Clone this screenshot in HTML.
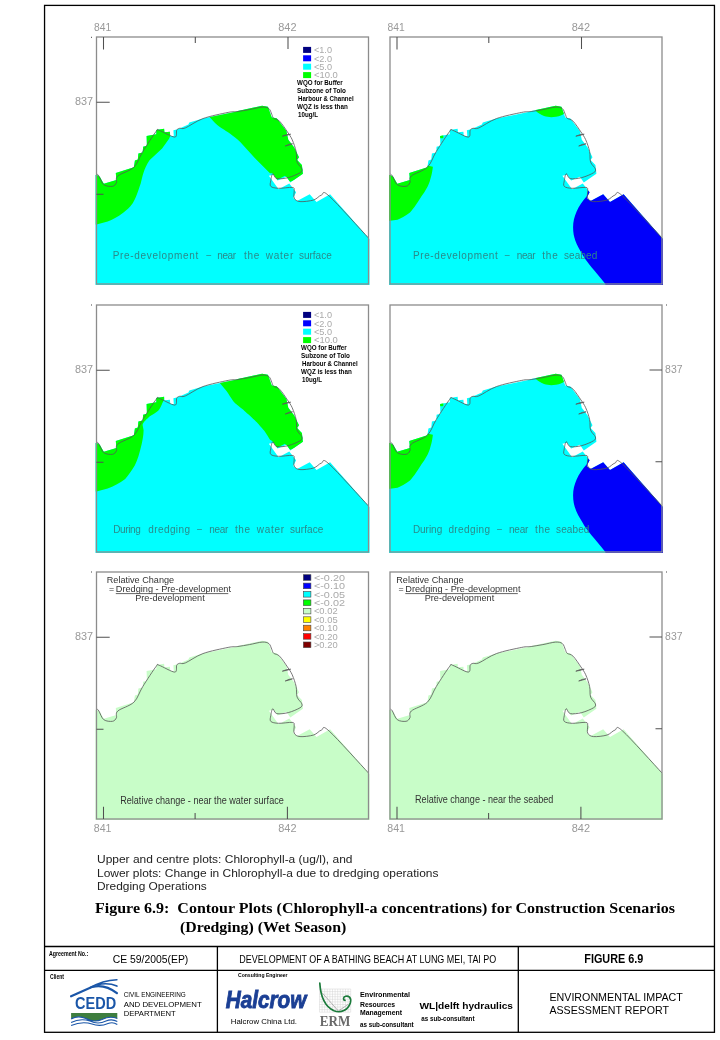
<!DOCTYPE html>
<html><head><meta charset="utf-8">
<style>
html,body{margin:0;padding:0;background:#fff;}
body{width:720px;height:1040px;overflow:hidden;position:relative;font-family:"Liberation Sans", sans-serif;}
svg{position:absolute;left:0;top:0;will-change:transform;}
</style></head><body>
<svg width="720" height="1040" viewBox="0 0 720 1040" font-family='"Liberation Sans", sans-serif'>
<defs>
<clipPath id="wclip"><path d="M-1,138 L0.5,138 L3.4,139.9 L7.3,146.7 L19.9,142.9 L19.3,136.1 L37.4,130.2 L38.4,123.4 L41.3,122.4 L41.9,116.6 L46.2,115.6 L46.6,109.8 L50.4,108.8 L50.1,99.1 L59.8,97.2 L59.8,92.9 L67.6,91.7 L68,95.2 L73.4,94.8 L73.8,99.1 L77.3,99.1 L76.9,93.3 L81.2,92.3 L91.9,87.4 L92.8,85.5 L106.4,81.6 L139.5,74.8 L141.3,74 L165.6,68.7 L171.4,69.7 L175.3,80.4 L180.2,81.3 L189.9,94 L191.8,102.7 L197.7,110.5 L202.5,120.2 L200.6,123.1 L205.4,128 L206.4,136.7 L193.8,145.5 L189.9,139.7 L181.1,143.6 L177.2,137.7 L172.4,138.7 L182.1,152.3 L192.8,146.5 L199.6,155.2 L196.7,161.1 L200.6,164 L213.2,157.2 L220,164.9 L233.6,157.2 L273,202 L273,248 L-1,248 Z"/></clipPath>
</defs>
<rect x="44.55" y="5.4" width="669.9" height="1026.9" fill="none" stroke="#000" stroke-width="1.3"/>
<g transform="translate(96.5,37)">
<path d="M-1,138 L0.5,138 L3.4,139.9 L7.3,146.7 L19.9,142.9 L19.3,136.1 L37.4,130.2 L38.4,123.4 L41.3,122.4 L41.9,116.6 L46.2,115.6 L46.6,109.8 L50.4,108.8 L50.1,99.1 L59.8,97.2 L59.8,92.9 L67.6,91.7 L68,95.2 L73.4,94.8 L73.8,99.1 L77.3,99.1 L76.9,93.3 L81.2,92.3 L91.9,87.4 L92.8,85.5 L106.4,81.6 L139.5,74.8 L141.3,74 L165.6,68.7 L171.4,69.7 L175.3,80.4 L180.2,81.3 L189.9,94 L191.8,102.7 L197.7,110.5 L202.5,120.2 L200.6,123.1 L205.4,128 L206.4,136.7 L193.8,145.5 L189.9,139.7 L181.1,143.6 L177.2,137.7 L172.4,138.7 L182.1,152.3 L192.8,146.5 L199.6,155.2 L196.7,161.1 L200.6,164 L213.2,157.2 L220,164.9 L233.6,157.2 L273,202 L273,248 L-1,248 Z" fill="#00ffff"/>
<path d="M-2,90 L73.6,88 L73.6,99.5 L72.4,101.9 L65.6,111.6 L53,123.3 C47,132 46,140 44.2,146.6 C41,156 39,162 36.4,166 C33,171 30,173 26.7,175.8 C21,180 16,183 11.2,184.5 L0,187.4 L-2,187.4 Z" fill="#00ff00" clip-path="url(#wclip)"/>
<path d="M100,60 L215,60 L215,137 L193.5,144.7 L188.5,138.8 L180.2,143 L176,136.3 L173.5,136.3 L158.5,121.3 L143.5,104.7 C136,98 131,95 125.2,91.3 C119,87 116,83 112.7,79.7 L100,72 Z" fill="#00ff00" clip-path="url(#wclip)"/>
<path d="M0.5,137.0 C0.8,137.3 1.3,137.2 2.4,139.0 C3.5,140.8 5.0,146.0 7.3,147.7 C9.6,149.4 13.9,149.6 16.0,149.3 C18.1,149.0 19.0,147.5 19.9,145.8 C20.8,144.1 18.4,141.6 21.3,139.0 C24.2,136.4 33.2,134.2 37.4,130.2 C41.5,126.1 42.5,120.7 46.2,114.7 C49.9,108.7 57.0,97.8 59.8,94.2 C62.5,90.6 59.6,92.3 62.7,93.3 C65.8,94.3 75.3,100.1 78.2,100.1 C81.1,100.1 79.4,94.8 80.2,93.3 C81.0,91.8 81.6,91.7 83.1,91.3 C84.5,90.9 85.0,92.5 88.9,90.9 C92.8,89.3 99.3,84.2 106.4,81.6 C113.5,79.0 125.9,76.6 131.7,75.4 C137.5,74.2 137.8,75.0 141.3,74.5 C144.8,74.0 148.9,73.3 152.9,72.6 C156.9,71.9 162.3,70.3 165.6,70.1 C168.8,69.9 170.8,70.4 172.4,71.6 C174.0,72.8 174.5,75.8 175.3,77.4 C176.1,79.0 175.9,80.2 177.2,81.3 C178.5,82.4 180.8,81.9 183.1,84.2 C185.4,86.5 188.8,91.8 190.9,94.9 C193.0,98.0 194.2,99.5 195.7,102.7 C197.1,106.0 198.8,110.7 199.6,114.4 C200.4,118.1 199.6,122.2 200.6,125.1 C201.6,128.0 204.9,130.1 205.4,131.9 C205.9,133.7 205.8,134.4 203.5,135.8 C201.2,137.2 195.7,139.6 191.8,140.6 C187.9,141.6 182.8,142.2 180.2,141.6 C177.6,140.9 177.3,136.4 176.3,136.7 C175.3,137.0 174.6,141.5 174.3,143.6 C174.0,145.7 173.0,148.1 174.3,149.4 C175.6,150.7 178.5,151.1 182.1,151.3 C185.7,151.5 193.1,150.1 195.7,150.4 C198.3,150.7 197.4,151.5 197.7,153.3 C198.0,155.1 196.7,159.2 197.7,161.1 C198.7,163.0 200.3,164.3 203.5,164.6 C206.7,164.9 213.5,164.1 217.1,163.0 C220.7,161.9 222.3,158.8 224.9,158.1 C227.5,157.4 224.8,151.9 232.7,159.1 C240.5,166.2 265.4,194.0 272.0,201.0" fill="none" stroke="#555" stroke-width="0.8" stroke-linejoin="round"/>
<path d="M185.8,99.2 Q190,97 194.2,97.2 Q190,98.6 185.8,99.2 Z M188.7,109 Q192.5,106.8 196,106.8 Q192.5,108.4 188.7,109 Z" fill="#888" stroke="#555" stroke-width="0.7" stroke-linejoin="round"/>
<rect x="0" y="0" width="272" height="247" fill="none" stroke="#8c8c8c" stroke-width="1.3"/>
<text x="6.1" y="-6.3" font-size="10" fill="#999" font-weight="normal" text-anchor="middle" textLength="17.2" lengthAdjust="spacingAndGlyphs" >841</text>
<text x="190.9" y="-6.3" font-size="10" fill="#999" font-weight="normal" text-anchor="middle" textLength="18.3" lengthAdjust="spacingAndGlyphs" >842</text>
<text x="-3.4" y="68.4" font-size="10" fill="#999" font-weight="normal" text-anchor="end" textLength="18.1" lengthAdjust="spacingAndGlyphs" >837</text>
<path d="M7,0 V12.5 M98.8,0 V6 M191.5,0 V12 M0,65.3 H13.2 M0,157.3 H7" stroke="#505050" stroke-width="1.05" fill="none"/>
<text x="16.2" y="221.9" font-size="10" fill="#2a8a8a" font-weight="normal" text-anchor="start" textLength="85.6" lengthAdjust="spacing" >Pre-development</text>
<text x="109.5" y="221.9" font-size="10" fill="#2a8a8a" font-weight="normal" text-anchor="start" textLength="4.7" lengthAdjust="spacing" >−</text>
<text x="120.8" y="221.9" font-size="10" fill="#2a8a8a" font-weight="normal" text-anchor="start" textLength="18.7" lengthAdjust="spacing" >near</text>
<text x="147.5" y="221.9" font-size="10" fill="#2a8a8a" font-weight="normal" text-anchor="start" textLength="15.3" lengthAdjust="spacing" >the</text>
<text x="169.2" y="221.9" font-size="10" fill="#2a8a8a" font-weight="normal" text-anchor="start" textLength="27.6" lengthAdjust="spacing" >water</text>
<text x="202.5" y="221.9" font-size="10" fill="#2a8a8a" font-weight="normal" text-anchor="start" textLength="32.7" lengthAdjust="spacing" >surface</text>
<rect x="206.6" y="9.9" width="8" height="6" fill="#000080"/>
<text x="217.4" y="16.2" font-size="8.6" fill="#aaa" font-weight="normal" text-anchor="start" textLength="18.1" lengthAdjust="spacingAndGlyphs" >&lt;1.0</text>
<rect x="206.6" y="18.3" width="8" height="6" fill="#0000ff"/>
<text x="217.4" y="24.6" font-size="8.6" fill="#aaa" font-weight="normal" text-anchor="start" textLength="18.1" lengthAdjust="spacingAndGlyphs" >&lt;2.0</text>
<rect x="206.6" y="26.7" width="8" height="6" fill="#00ffff"/>
<text x="217.4" y="33.0" font-size="8.6" fill="#aaa" font-weight="normal" text-anchor="start" textLength="18.1" lengthAdjust="spacingAndGlyphs" >&lt;5.0</text>
<rect x="206.6" y="35.1" width="8" height="6" fill="#00ff00"/>
<text x="217.4" y="41.4" font-size="8.6" fill="#aaa" font-weight="normal" text-anchor="start" textLength="23.9" lengthAdjust="spacingAndGlyphs" >&lt;10.0</text>
<text x="200.6" y="47.9" font-size="6.4" fill="#000" font-weight="bold" text-anchor="start" textLength="45.6" lengthAdjust="spacingAndGlyphs" >WQO for Buffer</text>
<text x="200.6" y="55.8" font-size="6.4" fill="#000" font-weight="bold" text-anchor="start" textLength="48.9" lengthAdjust="spacingAndGlyphs" >Subzone of Tolo</text>
<text x="201.5" y="63.7" font-size="6.4" fill="#000" font-weight="bold" text-anchor="start" textLength="55.7" lengthAdjust="spacingAndGlyphs" >Harbour &amp; Channel</text>
<text x="200.6" y="71.6" font-size="6.4" fill="#000" font-weight="bold" text-anchor="start" textLength="50.7" lengthAdjust="spacingAndGlyphs" >WQZ is less than</text>
<text x="201.5" y="79.5" font-size="6.4" fill="#000" font-weight="bold" text-anchor="start" textLength="20" lengthAdjust="spacingAndGlyphs" >10ug/L</text>
</g>
<g transform="translate(390,37)">
<path d="M-1,138 L0.5,138 L3.4,139.9 L7.3,146.7 L19.9,142.9 L19.3,136.1 L37.4,130.2 L38.4,123.4 L41.3,122.4 L41.9,116.6 L46.2,115.6 L46.6,109.8 L50.4,108.8 L50.1,99.1 L59.8,97.2 L59.8,92.9 L67.6,91.7 L68,95.2 L73.4,94.8 L73.8,99.1 L77.3,99.1 L76.9,93.3 L81.2,92.3 L91.9,87.4 L92.8,85.5 L106.4,81.6 L139.5,74.8 L141.3,74 L165.6,68.7 L171.4,69.7 L175.3,80.4 L180.2,81.3 L189.9,94 L191.8,102.7 L197.7,110.5 L202.5,120.2 L200.6,123.1 L205.4,128 L206.4,136.7 L193.8,145.5 L189.9,139.7 L181.1,143.6 L177.2,137.7 L172.4,138.7 L182.1,152.3 L192.8,146.5 L199.6,155.2 L196.7,161.1 L200.6,164 L213.2,157.2 L220,164.9 L233.6,157.2 L273,202 L273,248 L-1,248 Z" fill="#00ffff"/>
<path d="M-2,125 L37,128.6 L42.9,129.7 C42,137 41,140 39.8,144.3 C37,152 34,156 30.4,160.9 C26,168 23,172 20,175.5 C15,179 11,181.5 7.5,182.8 L0,183.8 L-2,183.8 Z" fill="#00ff00" clip-path="url(#wclip)"/>
<path d="M145.6,73.8 L146,55 L185,55 L174.8,75.9 C172,78 170,79 166,79.8 C161,80.5 158,80.2 154,79 C150,77.5 148,76 145.6,73.8 Z" fill="#00ff00" clip-path="url(#wclip)"/>
<rect x="49.3" y="98" width="4" height="3.2" fill="#00ff00" clip-path="url(#wclip)"/>
<path d="M196.7,159.3 L199,151 L236,151 L280,196 L280,250 L215.4,250 L215.4,247 C205,234 197,226 192.5,217.6 C186,207 183,200 183.1,190 C183.1,180 188,169 196.7,159.3 Z" fill="#0000fa" clip-path="url(#wclip)"/>
<path d="M0.5,137.0 C0.8,137.3 1.3,137.2 2.4,139.0 C3.5,140.8 5.0,146.0 7.3,147.7 C9.6,149.4 13.9,149.6 16.0,149.3 C18.1,149.0 19.0,147.5 19.9,145.8 C20.8,144.1 18.4,141.6 21.3,139.0 C24.2,136.4 33.2,134.2 37.4,130.2 C41.5,126.1 42.5,120.7 46.2,114.7 C49.9,108.7 57.0,97.8 59.8,94.2 C62.5,90.6 59.6,92.3 62.7,93.3 C65.8,94.3 75.3,100.1 78.2,100.1 C81.1,100.1 79.4,94.8 80.2,93.3 C81.0,91.8 81.6,91.7 83.1,91.3 C84.5,90.9 85.0,92.5 88.9,90.9 C92.8,89.3 99.3,84.2 106.4,81.6 C113.5,79.0 125.9,76.6 131.7,75.4 C137.5,74.2 137.8,75.0 141.3,74.5 C144.8,74.0 148.9,73.3 152.9,72.6 C156.9,71.9 162.3,70.3 165.6,70.1 C168.8,69.9 170.8,70.4 172.4,71.6 C174.0,72.8 174.5,75.8 175.3,77.4 C176.1,79.0 175.9,80.2 177.2,81.3 C178.5,82.4 180.8,81.9 183.1,84.2 C185.4,86.5 188.8,91.8 190.9,94.9 C193.0,98.0 194.2,99.5 195.7,102.7 C197.1,106.0 198.8,110.7 199.6,114.4 C200.4,118.1 199.6,122.2 200.6,125.1 C201.6,128.0 204.9,130.1 205.4,131.9 C205.9,133.7 205.8,134.4 203.5,135.8 C201.2,137.2 195.7,139.6 191.8,140.6 C187.9,141.6 182.8,142.2 180.2,141.6 C177.6,140.9 177.3,136.4 176.3,136.7 C175.3,137.0 174.6,141.5 174.3,143.6 C174.0,145.7 173.0,148.1 174.3,149.4 C175.6,150.7 178.5,151.1 182.1,151.3 C185.7,151.5 193.1,150.1 195.7,150.4 C198.3,150.7 197.4,151.5 197.7,153.3 C198.0,155.1 196.7,159.2 197.7,161.1 C198.7,163.0 200.3,164.3 203.5,164.6 C206.7,164.9 213.5,164.1 217.1,163.0 C220.7,161.9 222.3,158.8 224.9,158.1 C227.5,157.4 224.8,151.9 232.7,159.1 C240.5,166.2 265.4,194.0 272.0,201.0" fill="none" stroke="#555" stroke-width="0.8" stroke-linejoin="round"/>
<path d="M185.8,99.2 Q190,97 194.2,97.2 Q190,98.6 185.8,99.2 Z M188.7,109 Q192.5,106.8 196,106.8 Q192.5,108.4 188.7,109 Z" fill="#888" stroke="#555" stroke-width="0.7" stroke-linejoin="round"/>
<rect x="0" y="0" width="272" height="247" fill="none" stroke="#8c8c8c" stroke-width="1.3"/>
<text x="6.1" y="-6.3" font-size="10" fill="#999" font-weight="normal" text-anchor="middle" textLength="17.2" lengthAdjust="spacingAndGlyphs" >841</text>
<text x="190.9" y="-6.3" font-size="10" fill="#999" font-weight="normal" text-anchor="middle" textLength="18.3" lengthAdjust="spacingAndGlyphs" >842</text>
<path d="M7,0 V12.5 M98.8,0 V6 M191.5,0 V12" stroke="#505050" stroke-width="1.05" fill="none"/>
<text x="22.9" y="221.9" font-size="10" fill="#2a8a8a" font-weight="normal" text-anchor="start" textLength="84.9" lengthAdjust="spacing" >Pre-development</text>
<text x="114.4" y="221.9" font-size="10" fill="#2a8a8a" font-weight="normal" text-anchor="start" textLength="5.6" lengthAdjust="spacing" >−</text>
<text x="126.7" y="221.9" font-size="10" fill="#2a8a8a" font-weight="normal" text-anchor="start" textLength="18.9" lengthAdjust="spacing" >near</text>
<text x="152.2" y="221.9" font-size="10" fill="#2a8a8a" font-weight="normal" text-anchor="start" textLength="15.6" lengthAdjust="spacing" >the</text>
<text x="173.9" y="221.9" font-size="10" fill="#2a8a8a" font-weight="normal" text-anchor="start" textLength="33.3" lengthAdjust="spacing" >seabed</text>
</g>
<g transform="translate(96.5,305)">
<path d="M-1,138 L0.5,138 L3.4,139.9 L7.3,146.7 L19.9,142.9 L19.3,136.1 L37.4,130.2 L38.4,123.4 L41.3,122.4 L41.9,116.6 L46.2,115.6 L46.6,109.8 L50.4,108.8 L50.1,99.1 L59.8,97.2 L59.8,92.9 L67.6,91.7 L68,95.2 L73.4,94.8 L73.8,99.1 L77.3,99.1 L76.9,93.3 L81.2,92.3 L91.9,87.4 L92.8,85.5 L106.4,81.6 L139.5,74.8 L141.3,74 L165.6,68.7 L171.4,69.7 L175.3,80.4 L180.2,81.3 L189.9,94 L191.8,102.7 L197.7,110.5 L202.5,120.2 L200.6,123.1 L205.4,128 L206.4,136.7 L193.8,145.5 L189.9,139.7 L181.1,143.6 L177.2,137.7 L172.4,138.7 L182.1,152.3 L192.8,146.5 L199.6,155.2 L196.7,161.1 L200.6,164 L213.2,157.2 L220,164.9 L233.6,157.2 L273,202 L273,248 L-1,248 Z" fill="#00ffff"/>
<path d="M-2,90 L68.8,86 L68.5,90.3 L67.6,94.2 C65,100 64,103 61.7,105.8 C56,110 53,111 51,113.6 C47,117 46,119 46.2,120.4 L47.1,125.3 C47,131 46,135 45.2,138.9 C43,148 41,155 38.4,160.3 C35,166 32,170 28.7,173.9 C23,178 17,181 11.2,183.6 L0,186.5 L-2,186.5 Z" fill="#00ff00" clip-path="url(#wclip)"/>
<path d="M115,60 L215,60 L215,137 L193.5,144.7 L188.5,138.8 L180.2,143 L176,136.3 L173.5,134.7 C170,129 169,127 166.8,124.7 C163,120 161,118 158.5,115.5 C153,110 150,108 146.8,104.7 C142,101 139,99 136.8,96.3 C134,92 132,89 130.2,86.3 L122.7,77.2 L115,70 Z" fill="#00ff00" clip-path="url(#wclip)"/>
<path d="M0.5,137.0 C0.8,137.3 1.3,137.2 2.4,139.0 C3.5,140.8 5.0,146.0 7.3,147.7 C9.6,149.4 13.9,149.6 16.0,149.3 C18.1,149.0 19.0,147.5 19.9,145.8 C20.8,144.1 18.4,141.6 21.3,139.0 C24.2,136.4 33.2,134.2 37.4,130.2 C41.5,126.1 42.5,120.7 46.2,114.7 C49.9,108.7 57.0,97.8 59.8,94.2 C62.5,90.6 59.6,92.3 62.7,93.3 C65.8,94.3 75.3,100.1 78.2,100.1 C81.1,100.1 79.4,94.8 80.2,93.3 C81.0,91.8 81.6,91.7 83.1,91.3 C84.5,90.9 85.0,92.5 88.9,90.9 C92.8,89.3 99.3,84.2 106.4,81.6 C113.5,79.0 125.9,76.6 131.7,75.4 C137.5,74.2 137.8,75.0 141.3,74.5 C144.8,74.0 148.9,73.3 152.9,72.6 C156.9,71.9 162.3,70.3 165.6,70.1 C168.8,69.9 170.8,70.4 172.4,71.6 C174.0,72.8 174.5,75.8 175.3,77.4 C176.1,79.0 175.9,80.2 177.2,81.3 C178.5,82.4 180.8,81.9 183.1,84.2 C185.4,86.5 188.8,91.8 190.9,94.9 C193.0,98.0 194.2,99.5 195.7,102.7 C197.1,106.0 198.8,110.7 199.6,114.4 C200.4,118.1 199.6,122.2 200.6,125.1 C201.6,128.0 204.9,130.1 205.4,131.9 C205.9,133.7 205.8,134.4 203.5,135.8 C201.2,137.2 195.7,139.6 191.8,140.6 C187.9,141.6 182.8,142.2 180.2,141.6 C177.6,140.9 177.3,136.4 176.3,136.7 C175.3,137.0 174.6,141.5 174.3,143.6 C174.0,145.7 173.0,148.1 174.3,149.4 C175.6,150.7 178.5,151.1 182.1,151.3 C185.7,151.5 193.1,150.1 195.7,150.4 C198.3,150.7 197.4,151.5 197.7,153.3 C198.0,155.1 196.7,159.2 197.7,161.1 C198.7,163.0 200.3,164.3 203.5,164.6 C206.7,164.9 213.5,164.1 217.1,163.0 C220.7,161.9 222.3,158.8 224.9,158.1 C227.5,157.4 224.8,151.9 232.7,159.1 C240.5,166.2 265.4,194.0 272.0,201.0" fill="none" stroke="#555" stroke-width="0.8" stroke-linejoin="round"/>
<path d="M185.8,99.2 Q190,97 194.2,97.2 Q190,98.6 185.8,99.2 Z M188.7,109 Q192.5,106.8 196,106.8 Q192.5,108.4 188.7,109 Z" fill="#888" stroke="#555" stroke-width="0.7" stroke-linejoin="round"/>
<rect x="0" y="0" width="272" height="247" fill="none" stroke="#8c8c8c" stroke-width="1.3"/>
<text x="-3.4" y="68.4" font-size="10" fill="#999" font-weight="normal" text-anchor="end" textLength="18.1" lengthAdjust="spacingAndGlyphs" >837</text>
<path d="M0,65.3 H13.2 M0,157.3 H7" stroke="#505050" stroke-width="1.05" fill="none"/>
<text x="16.8" y="228.3" font-size="10" fill="#2a8a8a" font-weight="normal" text-anchor="start" textLength="27.4" lengthAdjust="spacing" >During</text>
<text x="51.8" y="228.3" font-size="10" fill="#2a8a8a" font-weight="normal" text-anchor="start" textLength="41.7" lengthAdjust="spacing" >dredging</text>
<text x="100.2" y="228.3" font-size="10" fill="#2a8a8a" font-weight="normal" text-anchor="start" textLength="5.0" lengthAdjust="spacing" >−</text>
<text x="112.8" y="228.3" font-size="10" fill="#2a8a8a" font-weight="normal" text-anchor="start" textLength="19.0" lengthAdjust="spacing" >near</text>
<text x="138.5" y="228.3" font-size="10" fill="#2a8a8a" font-weight="normal" text-anchor="start" textLength="15" lengthAdjust="spacing" >the</text>
<text x="160.2" y="228.3" font-size="10" fill="#2a8a8a" font-weight="normal" text-anchor="start" textLength="27.3" lengthAdjust="spacing" >water</text>
<text x="193.5" y="228.3" font-size="10" fill="#2a8a8a" font-weight="normal" text-anchor="start" textLength="33.3" lengthAdjust="spacing" >surface</text>
<rect x="206.6" y="6.9" width="8" height="6" fill="#000080"/>
<text x="217.4" y="13.2" font-size="8.6" fill="#aaa" font-weight="normal" text-anchor="start" textLength="18.1" lengthAdjust="spacingAndGlyphs" >&lt;1.0</text>
<rect x="206.6" y="15.3" width="8" height="6" fill="#0000ff"/>
<text x="217.4" y="21.6" font-size="8.6" fill="#aaa" font-weight="normal" text-anchor="start" textLength="18.1" lengthAdjust="spacingAndGlyphs" >&lt;2.0</text>
<rect x="206.6" y="23.7" width="8" height="6" fill="#00ffff"/>
<text x="217.4" y="30.0" font-size="8.6" fill="#aaa" font-weight="normal" text-anchor="start" textLength="18.1" lengthAdjust="spacingAndGlyphs" >&lt;5.0</text>
<rect x="206.6" y="32.1" width="8" height="6" fill="#00ff00"/>
<text x="217.4" y="38.4" font-size="8.6" fill="#aaa" font-weight="normal" text-anchor="start" textLength="23.9" lengthAdjust="spacingAndGlyphs" >&lt;10.0</text>
<text x="204.6" y="44.9" font-size="6.4" fill="#000" font-weight="bold" text-anchor="start" textLength="45.6" lengthAdjust="spacingAndGlyphs" >WQO for Buffer</text>
<text x="204.6" y="52.8" font-size="6.4" fill="#000" font-weight="bold" text-anchor="start" textLength="48.9" lengthAdjust="spacingAndGlyphs" >Subzone of Tolo</text>
<text x="205.5" y="60.7" font-size="6.4" fill="#000" font-weight="bold" text-anchor="start" textLength="55.7" lengthAdjust="spacingAndGlyphs" >Harbour &amp; Channel</text>
<text x="204.6" y="68.6" font-size="6.4" fill="#000" font-weight="bold" text-anchor="start" textLength="50.7" lengthAdjust="spacingAndGlyphs" >WQZ is less than</text>
<text x="205.5" y="76.5" font-size="6.4" fill="#000" font-weight="bold" text-anchor="start" textLength="20" lengthAdjust="spacingAndGlyphs" >10ug/L</text>
</g>
<g transform="translate(390,305)">
<path d="M-1,138 L0.5,138 L3.4,139.9 L7.3,146.7 L19.9,142.9 L19.3,136.1 L37.4,130.2 L38.4,123.4 L41.3,122.4 L41.9,116.6 L46.2,115.6 L46.6,109.8 L50.4,108.8 L50.1,99.1 L59.8,97.2 L59.8,92.9 L67.6,91.7 L68,95.2 L73.4,94.8 L73.8,99.1 L77.3,99.1 L76.9,93.3 L81.2,92.3 L91.9,87.4 L92.8,85.5 L106.4,81.6 L139.5,74.8 L141.3,74 L165.6,68.7 L171.4,69.7 L175.3,80.4 L180.2,81.3 L189.9,94 L191.8,102.7 L197.7,110.5 L202.5,120.2 L200.6,123.1 L205.4,128 L206.4,136.7 L193.8,145.5 L189.9,139.7 L181.1,143.6 L177.2,137.7 L172.4,138.7 L182.1,152.3 L192.8,146.5 L199.6,155.2 L196.7,161.1 L200.6,164 L213.2,157.2 L220,164.9 L233.6,157.2 L273,202 L273,248 L-1,248 Z" fill="#00ffff"/>
<path d="M-2,125 L37,128.6 L42.9,129.7 C42,137 41,140 39.8,144.3 C37,152 34,156 30.4,160.9 C26,168 23,172 20,175.5 C15,179 11,181.5 7.5,182.8 L0,183.8 L-2,183.8 Z" fill="#00ff00" clip-path="url(#wclip)"/>
<path d="M145.6,73.8 L146,55 L185,55 L174.8,75.9 C172,78 170,79 166,79.8 C161,80.5 158,80.2 154,79 C150,77.5 148,76 145.6,73.8 Z" fill="#00ff00" clip-path="url(#wclip)"/>
<rect x="49.3" y="98" width="4" height="3.2" fill="#00ff00" clip-path="url(#wclip)"/>
<path d="M196.7,159.3 L199,151 L236,151 L280,196 L280,250 L215.4,250 L215.4,247 C205,234 197,226 192.5,217.6 C186,207 183,200 183.1,190 C183.1,180 188,169 196.7,159.3 Z" fill="#0000fa" clip-path="url(#wclip)"/>
<path d="M0.5,137.0 C0.8,137.3 1.3,137.2 2.4,139.0 C3.5,140.8 5.0,146.0 7.3,147.7 C9.6,149.4 13.9,149.6 16.0,149.3 C18.1,149.0 19.0,147.5 19.9,145.8 C20.8,144.1 18.4,141.6 21.3,139.0 C24.2,136.4 33.2,134.2 37.4,130.2 C41.5,126.1 42.5,120.7 46.2,114.7 C49.9,108.7 57.0,97.8 59.8,94.2 C62.5,90.6 59.6,92.3 62.7,93.3 C65.8,94.3 75.3,100.1 78.2,100.1 C81.1,100.1 79.4,94.8 80.2,93.3 C81.0,91.8 81.6,91.7 83.1,91.3 C84.5,90.9 85.0,92.5 88.9,90.9 C92.8,89.3 99.3,84.2 106.4,81.6 C113.5,79.0 125.9,76.6 131.7,75.4 C137.5,74.2 137.8,75.0 141.3,74.5 C144.8,74.0 148.9,73.3 152.9,72.6 C156.9,71.9 162.3,70.3 165.6,70.1 C168.8,69.9 170.8,70.4 172.4,71.6 C174.0,72.8 174.5,75.8 175.3,77.4 C176.1,79.0 175.9,80.2 177.2,81.3 C178.5,82.4 180.8,81.9 183.1,84.2 C185.4,86.5 188.8,91.8 190.9,94.9 C193.0,98.0 194.2,99.5 195.7,102.7 C197.1,106.0 198.8,110.7 199.6,114.4 C200.4,118.1 199.6,122.2 200.6,125.1 C201.6,128.0 204.9,130.1 205.4,131.9 C205.9,133.7 205.8,134.4 203.5,135.8 C201.2,137.2 195.7,139.6 191.8,140.6 C187.9,141.6 182.8,142.2 180.2,141.6 C177.6,140.9 177.3,136.4 176.3,136.7 C175.3,137.0 174.6,141.5 174.3,143.6 C174.0,145.7 173.0,148.1 174.3,149.4 C175.6,150.7 178.5,151.1 182.1,151.3 C185.7,151.5 193.1,150.1 195.7,150.4 C198.3,150.7 197.4,151.5 197.7,153.3 C198.0,155.1 196.7,159.2 197.7,161.1 C198.7,163.0 200.3,164.3 203.5,164.6 C206.7,164.9 213.5,164.1 217.1,163.0 C220.7,161.9 222.3,158.8 224.9,158.1 C227.5,157.4 224.8,151.9 232.7,159.1 C240.5,166.2 265.4,194.0 272.0,201.0" fill="none" stroke="#555" stroke-width="0.8" stroke-linejoin="round"/>
<path d="M185.8,99.2 Q190,97 194.2,97.2 Q190,98.6 185.8,99.2 Z M188.7,109 Q192.5,106.8 196,106.8 Q192.5,108.4 188.7,109 Z" fill="#888" stroke="#555" stroke-width="0.7" stroke-linejoin="round"/>
<rect x="0" y="0" width="272" height="247" fill="none" stroke="#8c8c8c" stroke-width="1.3"/>
<text x="275.1" y="68.1" font-size="10" fill="#999" font-weight="normal" text-anchor="start" textLength="17.4" lengthAdjust="spacingAndGlyphs" >837</text>
<path d="M272,65 H259.5 M272,156.7 H265.5" stroke="#505050" stroke-width="1.05" fill="none"/>
<text x="22.9" y="227.8" font-size="10" fill="#2a8a8a" font-weight="normal" text-anchor="start" textLength="29.3" lengthAdjust="spacing" >During</text>
<text x="58.4" y="227.8" font-size="10" fill="#2a8a8a" font-weight="normal" text-anchor="start" textLength="41.6" lengthAdjust="spacing" >dredging</text>
<text x="106.7" y="227.8" font-size="10" fill="#2a8a8a" font-weight="normal" text-anchor="start" textLength="5.5" lengthAdjust="spacing" >−</text>
<text x="118.9" y="227.8" font-size="10" fill="#2a8a8a" font-weight="normal" text-anchor="start" textLength="19.5" lengthAdjust="spacing" >near</text>
<text x="145.1" y="227.8" font-size="10" fill="#2a8a8a" font-weight="normal" text-anchor="start" textLength="14.9" lengthAdjust="spacing" >the</text>
<text x="166.1" y="227.8" font-size="10" fill="#2a8a8a" font-weight="normal" text-anchor="start" textLength="33.3" lengthAdjust="spacing" >seabed</text>
</g>
<g transform="translate(96.5,572)">
<path d="M-1,138 L0.5,138 L3.4,139.9 L7.3,146.7 L19.9,142.9 L19.3,136.1 L37.4,130.2 L38.4,123.4 L41.3,122.4 L41.9,116.6 L46.2,115.6 L46.6,109.8 L50.4,108.8 L50.1,99.1 L59.8,97.2 L59.8,92.9 L67.6,91.7 L68,95.2 L73.4,94.8 L73.8,99.1 L77.3,99.1 L76.9,93.3 L81.2,92.3 L91.9,87.4 L92.8,85.5 L106.4,81.6 L139.5,74.8 L141.3,74 L165.6,68.7 L171.4,69.7 L175.3,80.4 L180.2,81.3 L189.9,94 L191.8,102.7 L197.7,110.5 L202.5,120.2 L200.6,123.1 L205.4,128 L206.4,136.7 L193.8,145.5 L189.9,139.7 L181.1,143.6 L177.2,137.7 L172.4,138.7 L182.1,152.3 L192.8,146.5 L199.6,155.2 L196.7,161.1 L200.6,164 L213.2,157.2 L220,164.9 L233.6,157.2 L273,202 L273,248 L-1,248 Z" fill="#c8fdc8"/>
<path d="M0.5,137.0 C0.8,137.3 1.3,137.2 2.4,139.0 C3.5,140.8 5.0,146.0 7.3,147.7 C9.6,149.4 13.9,149.6 16.0,149.3 C18.1,149.0 19.0,147.5 19.9,145.8 C20.8,144.1 18.4,141.6 21.3,139.0 C24.2,136.4 33.2,134.2 37.4,130.2 C41.5,126.1 42.5,120.7 46.2,114.7 C49.9,108.7 57.0,97.8 59.8,94.2 C62.5,90.6 59.6,92.3 62.7,93.3 C65.8,94.3 75.3,100.1 78.2,100.1 C81.1,100.1 79.4,94.8 80.2,93.3 C81.0,91.8 81.6,91.7 83.1,91.3 C84.5,90.9 85.0,92.5 88.9,90.9 C92.8,89.3 99.3,84.2 106.4,81.6 C113.5,79.0 125.9,76.6 131.7,75.4 C137.5,74.2 137.8,75.0 141.3,74.5 C144.8,74.0 148.9,73.3 152.9,72.6 C156.9,71.9 162.3,70.3 165.6,70.1 C168.8,69.9 170.8,70.4 172.4,71.6 C174.0,72.8 174.5,75.8 175.3,77.4 C176.1,79.0 175.9,80.2 177.2,81.3 C178.5,82.4 180.8,81.9 183.1,84.2 C185.4,86.5 188.8,91.8 190.9,94.9 C193.0,98.0 194.2,99.5 195.7,102.7 C197.1,106.0 198.8,110.7 199.6,114.4 C200.4,118.1 199.6,122.2 200.6,125.1 C201.6,128.0 204.9,130.1 205.4,131.9 C205.9,133.7 205.8,134.4 203.5,135.8 C201.2,137.2 195.7,139.6 191.8,140.6 C187.9,141.6 182.8,142.2 180.2,141.6 C177.6,140.9 177.3,136.4 176.3,136.7 C175.3,137.0 174.6,141.5 174.3,143.6 C174.0,145.7 173.0,148.1 174.3,149.4 C175.6,150.7 178.5,151.1 182.1,151.3 C185.7,151.5 193.1,150.1 195.7,150.4 C198.3,150.7 197.4,151.5 197.7,153.3 C198.0,155.1 196.7,159.2 197.7,161.1 C198.7,163.0 200.3,164.3 203.5,164.6 C206.7,164.9 213.5,164.1 217.1,163.0 C220.7,161.9 222.3,158.8 224.9,158.1 C227.5,157.4 224.8,151.9 232.7,159.1 C240.5,166.2 265.4,194.0 272.0,201.0" fill="none" stroke="#555" stroke-width="0.8" stroke-linejoin="round"/>
<path d="M185.8,99.2 Q190,97 194.2,97.2 Q190,98.6 185.8,99.2 Z M188.7,109 Q192.5,106.8 196,106.8 Q192.5,108.4 188.7,109 Z" fill="#888" stroke="#555" stroke-width="0.7" stroke-linejoin="round"/>
<rect x="0" y="0" width="272" height="247" fill="none" stroke="#8c8c8c" stroke-width="1.3"/>
<text x="6.1" y="260.2" font-size="10" fill="#999" font-weight="normal" text-anchor="middle" textLength="17.7" lengthAdjust="spacingAndGlyphs" >841</text>
<text x="190.9" y="260.2" font-size="10" fill="#999" font-weight="normal" text-anchor="middle" textLength="18.3" lengthAdjust="spacingAndGlyphs" >842</text>
<text x="-3.4" y="68.4" font-size="10" fill="#999" font-weight="normal" text-anchor="end" textLength="18.1" lengthAdjust="spacingAndGlyphs" >837</text>
<path d="M7,247 V234.8 M98.6,247 V241 M190.9,247 V234.8 M0,65.3 H13.2 M0,157.3 H7" stroke="#505050" stroke-width="1.05" fill="none"/>
<text x="23.7" y="231.8" font-size="10" fill="#333" font-weight="normal" text-anchor="start" textLength="163.6" lengthAdjust="spacingAndGlyphs" >Relative change - near the water surface</text>
<rect x="206.9" y="2.7" width="7.5" height="5.6" fill="#000080" stroke="#444" stroke-width="0.6"/>
<text x="217.4" y="8.8" font-size="8.6" fill="#aaa" font-weight="normal" text-anchor="start" textLength="31.1" lengthAdjust="spacingAndGlyphs" >&lt;-0.20</text>
<rect x="206.9" y="11.1" width="7.5" height="5.6" fill="#0000ff" stroke="#444" stroke-width="0.6"/>
<text x="217.4" y="17.2" font-size="8.6" fill="#aaa" font-weight="normal" text-anchor="start" textLength="31.1" lengthAdjust="spacingAndGlyphs" >&lt;-0.10</text>
<rect x="206.9" y="19.5" width="7.5" height="5.6" fill="#00ffff" stroke="#444" stroke-width="0.6"/>
<text x="217.4" y="25.6" font-size="8.6" fill="#aaa" font-weight="normal" text-anchor="start" textLength="31.1" lengthAdjust="spacingAndGlyphs" >&lt;-0.05</text>
<rect x="206.9" y="27.9" width="7.5" height="5.6" fill="#00ff00" stroke="#444" stroke-width="0.6"/>
<text x="217.4" y="34.0" font-size="8.6" fill="#aaa" font-weight="normal" text-anchor="start" textLength="31.1" lengthAdjust="spacingAndGlyphs" >&lt;-0.02</text>
<rect x="206.9" y="36.3" width="7.5" height="5.6" fill="#c8fdc8" stroke="#444" stroke-width="0.6"/>
<text x="217.4" y="42.4" font-size="8.6" fill="#aaa" font-weight="normal" text-anchor="start" textLength="23.7" lengthAdjust="spacingAndGlyphs" >&lt;0.02</text>
<rect x="206.9" y="44.8" width="7.5" height="5.6" fill="#ffff00" stroke="#444" stroke-width="0.6"/>
<text x="217.4" y="50.9" font-size="8.6" fill="#aaa" font-weight="normal" text-anchor="start" textLength="23.7" lengthAdjust="spacingAndGlyphs" >&lt;0.05</text>
<rect x="206.9" y="53.2" width="7.5" height="5.6" fill="#ff8000" stroke="#444" stroke-width="0.6"/>
<text x="217.4" y="59.3" font-size="8.6" fill="#aaa" font-weight="normal" text-anchor="start" textLength="23.7" lengthAdjust="spacingAndGlyphs" >&lt;0.10</text>
<rect x="206.9" y="61.6" width="7.5" height="5.6" fill="#ff0000" stroke="#444" stroke-width="0.6"/>
<text x="217.4" y="67.7" font-size="8.6" fill="#aaa" font-weight="normal" text-anchor="start" textLength="23.7" lengthAdjust="spacingAndGlyphs" >&lt;0.20</text>
<rect x="206.9" y="70.0" width="7.5" height="5.6" fill="#800000" stroke="#444" stroke-width="0.6"/>
<text x="217.4" y="76.1" font-size="8.6" fill="#aaa" font-weight="normal" text-anchor="start" textLength="23.7" lengthAdjust="spacingAndGlyphs" >&gt;0.20</text>
<text x="10.3" y="10.5" font-size="8.8" fill="#333" font-weight="normal" text-anchor="start" textLength="67.3" lengthAdjust="spacingAndGlyphs" >Relative Change</text>
<text x="12.4" y="19.9" font-size="8.8" fill="#333" font-weight="normal" text-anchor="start" >=</text>
<text x="19.3" y="19.9" font-size="8.8" fill="#333" font-weight="normal" text-anchor="start" textLength="115.2" lengthAdjust="spacingAndGlyphs" >Dredging - Pre-development</text>
<path d="M19.3,21.6 H131.8" stroke="#555" stroke-width="0.9"/>
<text x="38.7" y="28.8" font-size="8.8" fill="#333" font-weight="normal" text-anchor="start" textLength="69.5" lengthAdjust="spacingAndGlyphs" >Pre-development</text>
</g>
<g transform="translate(390,572)">
<path d="M-1,138 L0.5,138 L3.4,139.9 L7.3,146.7 L19.9,142.9 L19.3,136.1 L37.4,130.2 L38.4,123.4 L41.3,122.4 L41.9,116.6 L46.2,115.6 L46.6,109.8 L50.4,108.8 L50.1,99.1 L59.8,97.2 L59.8,92.9 L67.6,91.7 L68,95.2 L73.4,94.8 L73.8,99.1 L77.3,99.1 L76.9,93.3 L81.2,92.3 L91.9,87.4 L92.8,85.5 L106.4,81.6 L139.5,74.8 L141.3,74 L165.6,68.7 L171.4,69.7 L175.3,80.4 L180.2,81.3 L189.9,94 L191.8,102.7 L197.7,110.5 L202.5,120.2 L200.6,123.1 L205.4,128 L206.4,136.7 L193.8,145.5 L189.9,139.7 L181.1,143.6 L177.2,137.7 L172.4,138.7 L182.1,152.3 L192.8,146.5 L199.6,155.2 L196.7,161.1 L200.6,164 L213.2,157.2 L220,164.9 L233.6,157.2 L273,202 L273,248 L-1,248 Z" fill="#c8fdc8"/>
<path d="M0.5,137.0 C0.8,137.3 1.3,137.2 2.4,139.0 C3.5,140.8 5.0,146.0 7.3,147.7 C9.6,149.4 13.9,149.6 16.0,149.3 C18.1,149.0 19.0,147.5 19.9,145.8 C20.8,144.1 18.4,141.6 21.3,139.0 C24.2,136.4 33.2,134.2 37.4,130.2 C41.5,126.1 42.5,120.7 46.2,114.7 C49.9,108.7 57.0,97.8 59.8,94.2 C62.5,90.6 59.6,92.3 62.7,93.3 C65.8,94.3 75.3,100.1 78.2,100.1 C81.1,100.1 79.4,94.8 80.2,93.3 C81.0,91.8 81.6,91.7 83.1,91.3 C84.5,90.9 85.0,92.5 88.9,90.9 C92.8,89.3 99.3,84.2 106.4,81.6 C113.5,79.0 125.9,76.6 131.7,75.4 C137.5,74.2 137.8,75.0 141.3,74.5 C144.8,74.0 148.9,73.3 152.9,72.6 C156.9,71.9 162.3,70.3 165.6,70.1 C168.8,69.9 170.8,70.4 172.4,71.6 C174.0,72.8 174.5,75.8 175.3,77.4 C176.1,79.0 175.9,80.2 177.2,81.3 C178.5,82.4 180.8,81.9 183.1,84.2 C185.4,86.5 188.8,91.8 190.9,94.9 C193.0,98.0 194.2,99.5 195.7,102.7 C197.1,106.0 198.8,110.7 199.6,114.4 C200.4,118.1 199.6,122.2 200.6,125.1 C201.6,128.0 204.9,130.1 205.4,131.9 C205.9,133.7 205.8,134.4 203.5,135.8 C201.2,137.2 195.7,139.6 191.8,140.6 C187.9,141.6 182.8,142.2 180.2,141.6 C177.6,140.9 177.3,136.4 176.3,136.7 C175.3,137.0 174.6,141.5 174.3,143.6 C174.0,145.7 173.0,148.1 174.3,149.4 C175.6,150.7 178.5,151.1 182.1,151.3 C185.7,151.5 193.1,150.1 195.7,150.4 C198.3,150.7 197.4,151.5 197.7,153.3 C198.0,155.1 196.7,159.2 197.7,161.1 C198.7,163.0 200.3,164.3 203.5,164.6 C206.7,164.9 213.5,164.1 217.1,163.0 C220.7,161.9 222.3,158.8 224.9,158.1 C227.5,157.4 224.8,151.9 232.7,159.1 C240.5,166.2 265.4,194.0 272.0,201.0" fill="none" stroke="#555" stroke-width="0.8" stroke-linejoin="round"/>
<path d="M185.8,99.2 Q190,97 194.2,97.2 Q190,98.6 185.8,99.2 Z M188.7,109 Q192.5,106.8 196,106.8 Q192.5,108.4 188.7,109 Z" fill="#888" stroke="#555" stroke-width="0.7" stroke-linejoin="round"/>
<rect x="0" y="0" width="272" height="247" fill="none" stroke="#8c8c8c" stroke-width="1.3"/>
<text x="6.1" y="260.2" font-size="10" fill="#999" font-weight="normal" text-anchor="middle" textLength="17.7" lengthAdjust="spacingAndGlyphs" >841</text>
<text x="190.9" y="260.2" font-size="10" fill="#999" font-weight="normal" text-anchor="middle" textLength="18.3" lengthAdjust="spacingAndGlyphs" >842</text>
<text x="275.1" y="68.1" font-size="10" fill="#999" font-weight="normal" text-anchor="start" textLength="17.4" lengthAdjust="spacingAndGlyphs" >837</text>
<path d="M7,247 V234.8 M98.6,247 V241 M190.9,247 V234.8 M272,65 H259.5 M272,156.7 H265.5" stroke="#505050" stroke-width="1.05" fill="none"/>
<text x="25.1" y="231.2" font-size="10" fill="#333" font-weight="normal" text-anchor="start" textLength="138.2" lengthAdjust="spacingAndGlyphs" >Relative change - near the seabed</text>
<text x="6.300000000000001" y="10.5" font-size="8.8" fill="#333" font-weight="normal" text-anchor="start" textLength="67.3" lengthAdjust="spacingAndGlyphs" >Relative Change</text>
<text x="8.4" y="19.9" font-size="8.8" fill="#333" font-weight="normal" text-anchor="start" >=</text>
<text x="15.3" y="19.9" font-size="8.8" fill="#333" font-weight="normal" text-anchor="start" textLength="115.2" lengthAdjust="spacingAndGlyphs" >Dredging - Pre-development</text>
<path d="M15.3,21.6 H127.80000000000001" stroke="#555" stroke-width="0.9"/>
<text x="34.7" y="28.8" font-size="8.8" fill="#333" font-weight="normal" text-anchor="start" textLength="69.5" lengthAdjust="spacingAndGlyphs" >Pre-development</text>
</g>
<text x="97" y="863" font-size="11.6" fill="#222" font-weight="normal" text-anchor="start" textLength="255.5" lengthAdjust="spacingAndGlyphs" >Upper and centre plots: Chlorophyll-a (ug/l), and</text>
<text x="97" y="876.7" font-size="11.6" fill="#222" font-weight="normal" text-anchor="start" textLength="341.5" lengthAdjust="spacingAndGlyphs" >Lower plots: Change in Chlorophyll-a due to dredging operations</text>
<text x="97" y="890.2" font-size="11.6" fill="#222" font-weight="normal" text-anchor="start" textLength="109.7" lengthAdjust="spacingAndGlyphs" >Dredging Operations</text>
<text x="95" y="912.8" font-size="15" fill="#000" font-weight="bold" text-anchor="start" textLength="580" lengthAdjust="spacingAndGlyphs" font-family='"Liberation Serif", serif' >Figure 6.9:  Contour Plots (Chlorophyll-a concentrations) for Construction Scenarios</text>
<text x="180" y="931.8" font-size="15" fill="#000" font-weight="bold" text-anchor="start" textLength="166.3" lengthAdjust="spacingAndGlyphs" font-family='"Liberation Serif", serif' >(Dredging) (Wet Season)</text>
<path d="M44.5,946.5 H714.5 M44.5,970.4 H714.5 M217.4,946.5 V1032.3 M518.3,946.5 V1032.3" stroke="#000" stroke-width="1.3" fill="none"/>
<text x="49" y="955.8" font-size="7" fill="#000" font-weight="bold" text-anchor="start" textLength="39.3" lengthAdjust="spacingAndGlyphs" >Agreement No.:</text>
<text x="112.7" y="962.9" font-size="10.5" fill="#000" font-weight="normal" text-anchor="start" textLength="75.6" lengthAdjust="spacingAndGlyphs" >CE 59/2005(EP)</text>
<text x="239.3" y="962.8" font-size="10.3" fill="#000" font-weight="normal" text-anchor="start" textLength="257" lengthAdjust="spacingAndGlyphs" >DEVELOPMENT OF A BATHING BEACH AT LUNG MEI, TAI PO</text>
<text x="584.3" y="963.3" font-size="12.5" fill="#000" font-weight="bold" text-anchor="start" textLength="59" lengthAdjust="spacingAndGlyphs" >FIGURE 6.9</text>
<text x="50" y="978.7" font-size="7" fill="#000" font-weight="bold" text-anchor="start" textLength="14" lengthAdjust="spacingAndGlyphs" >Client</text>
<text x="238" y="976.9" font-size="6" fill="#000" font-weight="bold" text-anchor="start" textLength="49.6" lengthAdjust="spacingAndGlyphs" >Consulting Engineer</text>
<text x="549.4" y="1001.2" font-size="11.5" fill="#000" font-weight="normal" text-anchor="start" textLength="133.5" lengthAdjust="spacingAndGlyphs" >ENVIRONMENTAL IMPACT</text>
<text x="549.4" y="1014.3" font-size="11.5" fill="#000" font-weight="normal" text-anchor="start" textLength="119.5" lengthAdjust="spacingAndGlyphs" >ASSESSMENT REPORT</text>
<text x="123.7" y="996.7" font-size="7.4" fill="#000" font-weight="normal" text-anchor="start" textLength="62" lengthAdjust="spacingAndGlyphs" >CIVIL ENGINEERING</text>
<text x="123.7" y="1006.5" font-size="7.4" fill="#000" font-weight="normal" text-anchor="start" textLength="78" lengthAdjust="spacingAndGlyphs" >AND DEVELOPMENT</text>
<text x="123.7" y="1015.7" font-size="7.4" fill="#000" font-weight="normal" text-anchor="start" textLength="52" lengthAdjust="spacingAndGlyphs" >DEPARTMENT</text>
<path d="M71.1,996.2 L92.4,986.8 Q104.9,983.7 116.9,993.1" stroke="#1a56a8" stroke-width="2.3" fill="none" stroke-linecap="round"/>
<path d="M90,987.8 Q102.6,980.4 116.9,979.8 M97.1,984.9 Q108,982.2 116.9,986.1" stroke="#1a56a8" stroke-width="1.6" fill="none" stroke-linecap="round"/>
<text x="75.1" y="1008.5" font-size="16.2" fill="#1a56a8" font-weight="bold" text-anchor="start" textLength="41.1" lengthAdjust="spacingAndGlyphs" >CEDD</text>
<path d="M71.1,1012.9 H117.3 V1018.5 Q110,1015.5 102,1019.5 Q94,1023 86,1018.5 Q78,1015 71.1,1019 Z" fill="#3e7e3e"/>
<path d="M71.1,1019 Q78,1015 86,1018.5 Q94,1023 102,1019.5 Q110,1015.5 117.3,1018.5 M71.1,1022.5 Q80,1018 90,1021 Q98,1025 106,1021 Q112,1018.5 117.3,1021.5 M71.1,1025.5 Q82,1021 92,1024 Q100,1027 108,1023.5 Q113,1021.5 117.3,1024.5" stroke="#1a56a8" stroke-width="1.1" fill="none"/>
<text x="225.8" y="1007.8" font-size="24" fill="#1b3f94" font-weight="bold" text-anchor="start" textLength="80.6" lengthAdjust="spacingAndGlyphs" font-style="italic" stroke="#1b3f94" stroke-width="0.9">Halcrow</text>
<text x="230.8" y="1023.8" font-size="7.5" fill="#000" font-weight="normal" text-anchor="start" textLength="66.2" lengthAdjust="spacingAndGlyphs" >Halcrow China Ltd.</text>
<path d="M319.5,989 V1012.2 M322.1,989 V1012.2 M324.7,989 V1012.2 M327.3,989 V1012.2 M329.9,989 V1012.2 M332.5,989 V1012.2 M335.1,989 V1012.2 M337.7,989 V1012.2 M340.3,989 V1012.2 M342.9,989 V1012.2 M345.5,989 V1012.2 M348.1,989 V1012.2 M350.7,989 V1012.2 M319.5,989.0 H350.7 M319.5,991.6 H350.7 M319.5,994.2 H350.7 M319.5,996.7 H350.7 M319.5,999.3 H350.7 M319.5,1001.9 H350.7 M319.5,1004.5 H350.7 M319.5,1007.0 H350.7 M319.5,1009.6 H350.7 M319.5,1012.2 H350.7" stroke="#cfcfcf" stroke-width="0.45" fill="none"/>
<path d="M322,992.7 L338.4,1011 L348.2,1004.3" stroke="#777" stroke-width="0.5" fill="none"/>
<path d="M319.8,983.2 C320.5,995 324,1006 334,1010.8 C341,1013.5 348,1010 350.3,1003 C352,997 348,995.5 345.5,996.3 C343,997 343,1000 345,1000.3" stroke="#1a7a3a" stroke-width="1.7" fill="none" stroke-linecap="round"/>
<text x="319.8" y="1025.7" font-size="14.4" fill="#6a6a6a" font-weight="bold" text-anchor="start" textLength="30.6" lengthAdjust="spacingAndGlyphs" font-family='"Liberation Serif", serif' >ERM</text>
<text x="360" y="997" font-size="7.6" fill="#000" font-weight="bold" text-anchor="start" textLength="50" lengthAdjust="spacingAndGlyphs" >Environmental</text>
<text x="360" y="1006.8" font-size="7.6" fill="#000" font-weight="bold" text-anchor="start" textLength="35" lengthAdjust="spacingAndGlyphs" >Resources</text>
<text x="360" y="1015.3" font-size="7.6" fill="#000" font-weight="bold" text-anchor="start" textLength="42" lengthAdjust="spacingAndGlyphs" >Management</text>
<text x="360" y="1026.6" font-size="7.2" fill="#000" font-weight="bold" text-anchor="start" textLength="53.7" lengthAdjust="spacingAndGlyphs" >as sub-consultant</text>
<text x="419.5" y="1009.2" font-size="9.6" fill="#000" font-weight="bold" text-anchor="start" textLength="93.5" lengthAdjust="spacingAndGlyphs" >WL|delft hydraulics</text>
<text x="421.3" y="1020.8" font-size="7.2" fill="#000" font-weight="bold" text-anchor="start" textLength="53.2" lengthAdjust="spacingAndGlyphs" >as sub-consultant</text>
<rect x="91.0" y="36.8" width="1" height="1" fill="#444"/>
<rect x="91.0" y="304.5" width="1" height="1" fill="#444"/>
<rect x="91.0" y="571.5" width="1" height="1" fill="#444"/>
<rect x="666.0" y="304.5" width="1" height="1" fill="#444"/>
<rect x="666.0" y="571.5" width="1" height="1" fill="#444"/>
</svg>
</body></html>
